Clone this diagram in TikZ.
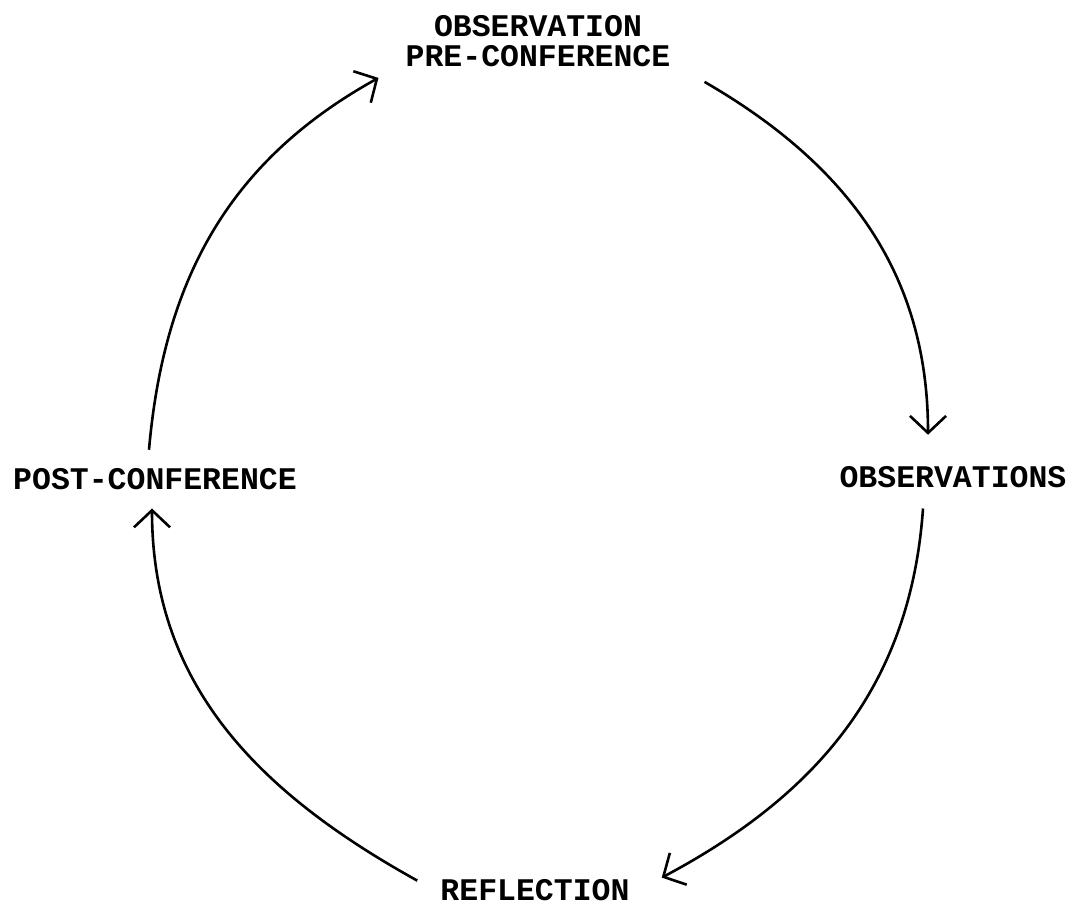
\documentclass[tikz,border=0pt]{standalone}
\usepackage{fontspec}
\setmonofont{Liberation Mono}
\usepackage{tikz}
\usetikzlibrary{arrows.meta}
\tikzstyle{stage} = [font={\ttfamily\bfseries\fontsize{31.5}{30}\selectfont},
    inner sep=0pt, align=center]
\tikzstyle{line} = [draw, line width=2.6pt,
    -{Straight Barb[length=17pt,width=36pt,line width=2.6pt]}]
\begin{document}
\begin{tikzpicture}[x=1pt,y=1pt]
    \useasboundingbox (0,0) rectangle (1076,-909);
    % Place nodes
    \node[stage] (obsv) at (538,-41) {OBSERVATION\\PRE-CONFERENCE};
    \node[stage, anchor=base] (obs) at (953,-487) {OBSERVATIONS};
    \node[stage, anchor=base] (refl) at (535,-900) {REFLECTION};
    \node[stage, anchor=base] (post) at (155,-489) {POST-CONFERENCE};
    % Draw edges
    \path [line] ([shift={(34,-15)}]obsv.south east) to[out=-30,in=90] ([shift={(-25,31)}]obs.north);
    \path [line] ([shift={(-30,-21)}]obs.south) to[out=-94,in=28] ([shift={(32,12)}]refl.east);
    \path [line] ([shift={(-23,9)}]refl.west) to[out=151,in=-90] ([shift={(-3,-19)}]post.south);
    \path [line] ([shift={(-6,18)}]post.north) to[out=85,in=-151] ([shift={(-27,-11)}]obsv.south west);
\end{tikzpicture}
\end{document}
